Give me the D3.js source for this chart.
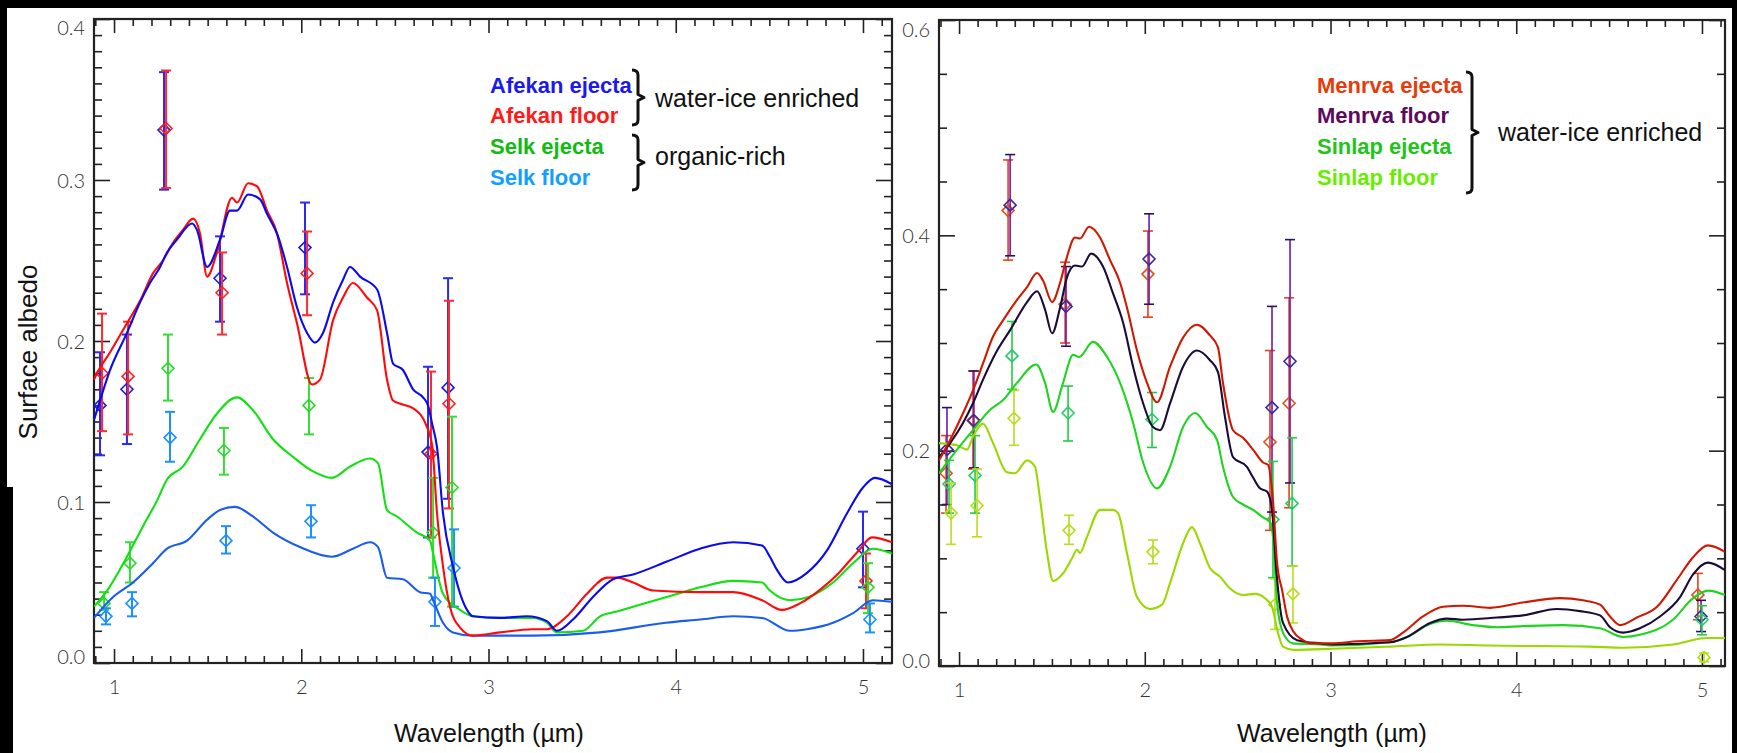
<!DOCTYPE html>
<html><head><meta charset="utf-8">
<script src="https://cdn.jsdelivr.net/npm/d3@7"></script>
<style>body{margin:0;background:#000;} svg{display:block}</style>
</head><body><svg id="c" width="1737" height="753"></svg>
<script>
// ---------------- DATA: left panel (Afekan / Selk) ----------------
const afekanEjectaCurve = [[0.893,0.151],[0.925,0.163],[0.979,0.182],[1.069,0.205],[1.139,0.224],[1.192,0.236],[1.246,0.246],[1.283,0.255],[1.336,0.263],[1.417,0.273],[1.443,0.269],[1.497,0.246],[1.566,0.263],[1.619,0.281],[1.657,0.281],[1.716,0.291],[1.780,0.288],[1.817,0.279],[1.876,0.265],[1.924,0.246],[1.977,0.221],[2.031,0.205],[2.073,0.199],[2.116,0.205],[2.170,0.224],[2.223,0.238],[2.260,0.246],[2.314,0.240],[2.405,0.232],[2.458,0.205],[2.490,0.186],[2.543,0.182],[2.597,0.170],[2.650,0.165],[2.677,0.160],[2.700,0.148],[2.725,0.134],[2.757,0.093],[2.810,0.060],[2.885,0.033],[2.917,0.029],[3.061,0.028],[3.206,0.029],[3.312,0.026],[3.366,0.020],[3.451,0.027],[3.558,0.041],[3.665,0.052],[3.772,0.055],[3.953,0.063],[4.130,0.071],[4.306,0.075],[4.461,0.073],[4.503,0.066],[4.540,0.058],[4.599,0.050],[4.701,0.056],[4.808,0.070],[4.915,0.093],[5.000,0.109],[5.064,0.115],[5.155,0.111]];
const afekanFloorCurve = [[0.893,0.176],[0.909,0.180],[0.979,0.193],[1.069,0.211],[1.139,0.225],[1.208,0.242],[1.261,0.250],[1.315,0.261],[1.368,0.269],[1.422,0.276],[1.459,0.267],[1.497,0.240],[1.550,0.255],[1.630,0.289],[1.657,0.286],[1.716,0.298],[1.764,0.296],[1.817,0.281],[1.870,0.267],[1.924,0.236],[1.977,0.211],[2.057,0.173],[2.100,0.176],[2.170,0.213],[2.223,0.227],[2.276,0.236],[2.351,0.227],[2.405,0.219],[2.458,0.176],[2.490,0.163],[2.530,0.161],[2.600,0.158],[2.670,0.147],[2.700,0.134],[2.725,0.093],[2.757,0.060],[2.794,0.035],[2.848,0.022],[2.917,0.017],[3.061,0.019],[3.236,0.021],[3.312,0.021],[3.419,0.029],[3.526,0.043],[3.633,0.053],[3.686,0.053],[3.772,0.050],[3.879,0.045],[4.130,0.044],[4.306,0.044],[4.461,0.039],[4.567,0.033],[4.663,0.037],[4.765,0.045],[4.872,0.056],[4.925,0.063],[4.979,0.070],[5.048,0.078],[5.155,0.075]];
const selkEjectaCurve = [[0.893,0.035],[0.963,0.045],[1.069,0.066],[1.155,0.085],[1.230,0.101],[1.283,0.114],[1.368,0.122],[1.459,0.139],[1.550,0.155],[1.657,0.165],[1.742,0.157],[1.849,0.139],[1.956,0.128],[2.063,0.119],[2.164,0.115],[2.260,0.122],[2.367,0.127],[2.410,0.124],[2.458,0.095],[2.511,0.091],[2.618,0.081],[2.688,0.076],[2.704,0.068],[2.757,0.043],[2.848,0.033],[2.917,0.029],[3.061,0.028],[3.236,0.028],[3.312,0.025],[3.366,0.019],[3.505,0.020],[3.596,0.029],[3.686,0.032],[4.039,0.044],[4.130,0.047],[4.306,0.051],[4.461,0.050],[4.503,0.045],[4.610,0.039],[4.710,0.041],[4.840,0.050],[4.947,0.062],[5.053,0.071],[5.155,0.068]];
const selkFloorCurve = [[0.893,0.028],[0.995,0.041],[1.101,0.050],[1.208,0.062],[1.283,0.071],[1.390,0.076],[1.497,0.089],[1.566,0.095],[1.646,0.097],[1.742,0.091],[1.849,0.081],[1.993,0.072],[2.164,0.066],[2.276,0.071],[2.367,0.075],[2.410,0.072],[2.458,0.053],[2.543,0.052],[2.634,0.044],[2.688,0.043],[2.704,0.039],[2.757,0.025],[2.810,0.019],[2.917,0.017],[3.236,0.017],[3.594,0.019],[3.947,0.025],[4.130,0.027],[4.306,0.029],[4.461,0.028],[4.610,0.020],[4.700,0.021],[4.840,0.025],[4.947,0.031],[5.053,0.039],[5.155,0.038]];

// points: [wavelength, albedo, lower, upper]
const afekanEjectaPoints = [[0.925,0.160,0.129,0.193],[1.069,0.170,0.136,0.204],[1.267,0.331,0.294,0.367],[1.566,0.239,0.212,0.265],[2.020,0.258,0.229,0.286],[2.677,0.131,0.078,0.184],[2.784,0.171,0.102,0.239],[5.000,0.071,0.047,0.094]];
const afekanFloorPoints = [[0.936,0.180,0.144,0.217],[1.075,0.178,0.142,0.212],[1.278,0.332,0.295,0.368],[1.577,0.230,0.204,0.255],[2.031,0.242,0.216,0.268],[2.693,0.130,0.078,0.181],[2.789,0.161,0.096,0.225],[5.016,0.051,0.034,0.068]];
const selkEjectaPoints = [[0.947,0.037,0.033,0.044],[1.085,0.062,0.050,0.075],[1.288,0.183,0.163,0.204],[1.587,0.132,0.117,0.146],[2.041,0.160,0.142,0.177],[2.704,0.081,0.053,0.115],[2.805,0.109,0.035,0.153],[5.027,0.047,0.031,0.062]];
const selkFloorPoints = [[0.957,0.029,0.024,0.034],[1.096,0.037,0.029,0.044],[1.299,0.140,0.125,0.156],[1.598,0.076,0.068,0.085],[2.052,0.088,0.078,0.098],[2.714,0.038,0.023,0.053],[2.816,0.059,0.035,0.083],[5.037,0.027,0.019,0.037]];

// ---------------- DATA: right panel (Menrva / Sinlap) ----------------
const menrvaEjectaCurve = [[0.892,0.191],[0.952,0.210],[1.022,0.235],[1.075,0.256],[1.129,0.281],[1.183,0.306],[1.237,0.321],[1.312,0.340],[1.366,0.352],[1.420,0.365],[1.452,0.358],[1.501,0.338],[1.544,0.356],[1.581,0.380],[1.624,0.398],[1.651,0.397],[1.700,0.408],[1.759,0.398],[1.813,0.377],[1.867,0.356],[1.904,0.333],[1.958,0.293],[2.012,0.263],[2.066,0.245],[2.136,0.278],[2.206,0.305],[2.281,0.317],[2.351,0.307],[2.394,0.296],[2.421,0.263],[2.475,0.219],[2.529,0.212],[2.583,0.201],[2.637,0.189],[2.663,0.187],[2.690,0.154],[2.712,0.096],[2.740,0.070],[2.766,0.046],[2.800,0.032],[2.852,0.024],[2.890,0.021],[3.013,0.021],[3.143,0.023],[3.320,0.024],[3.390,0.031],[3.498,0.046],[3.606,0.055],[3.713,0.056],[3.859,0.054],[4.036,0.059],[4.235,0.063],[4.359,0.061],[4.451,0.057],[4.505,0.046],[4.559,0.038],[4.650,0.045],[4.758,0.055],[4.865,0.080],[4.952,0.101],[5.032,0.112],[5.124,0.106]];
const menrvaFloorCurve = [[0.892,0.194],[0.952,0.207],[1.022,0.226],[1.075,0.244],[1.129,0.266],[1.205,0.293],[1.275,0.312],[1.366,0.338],[1.420,0.348],[1.463,0.331],[1.501,0.309],[1.544,0.333],[1.581,0.361],[1.624,0.372],[1.662,0.371],[1.711,0.383],[1.775,0.371],[1.829,0.346],[1.883,0.319],[1.937,0.278],[1.991,0.244],[2.044,0.222],[2.082,0.219],[2.136,0.244],[2.206,0.278],[2.281,0.293],[2.351,0.284],[2.394,0.273],[2.432,0.231],[2.475,0.194],[2.550,0.185],[2.580,0.176],[2.620,0.165],[2.658,0.162],[2.685,0.145],[2.708,0.089],[2.744,0.040],[2.820,0.024],[2.944,0.021],[3.013,0.020],[3.320,0.022],[3.412,0.027],[3.536,0.040],[3.627,0.044],[3.713,0.043],[3.896,0.045],[4.036,0.047],[4.219,0.053],[4.343,0.051],[4.451,0.047],[4.505,0.036],[4.575,0.031],[4.666,0.035],[4.774,0.046],[4.882,0.064],[4.952,0.085],[5.032,0.096],[5.124,0.089]];
const sinlapEjectaCurve = [[0.892,0.179],[0.989,0.201],[1.075,0.219],[1.167,0.238],[1.237,0.247],[1.312,0.263],[1.415,0.280],[1.463,0.263],[1.506,0.236],[1.560,0.263],[1.614,0.289],[1.646,0.287],[1.721,0.301],[1.797,0.287],[1.867,0.263],[1.937,0.226],[1.991,0.189],[2.066,0.165],[2.136,0.185],[2.206,0.222],[2.271,0.235],[2.335,0.222],[2.389,0.210],[2.421,0.185],[2.475,0.157],[2.529,0.150],[2.583,0.145],[2.637,0.138],[2.674,0.134],[2.690,0.120],[2.712,0.059],[2.744,0.031],[2.798,0.021],[2.944,0.020],[3.013,0.019],[3.320,0.022],[3.412,0.027],[3.536,0.039],[3.627,0.042],[3.767,0.038],[3.896,0.036],[4.036,0.037],[4.252,0.038],[4.451,0.035],[4.575,0.027],[4.666,0.029],[4.844,0.043],[4.952,0.063],[5.032,0.070],[5.124,0.066]];
const sinlapFloorCurve = [[0.892,0.207],[0.989,0.205],[1.043,0.201],[1.075,0.213],[1.129,0.225],[1.183,0.207],[1.258,0.180],[1.301,0.179],[1.366,0.191],[1.409,0.185],[1.436,0.155],[1.474,0.105],[1.506,0.079],[1.560,0.086],[1.608,0.100],[1.635,0.108],[1.651,0.105],[1.689,0.120],[1.759,0.145],[1.829,0.145],[1.856,0.142],[1.904,0.105],[1.958,0.064],[2.028,0.053],[2.093,0.057],[2.136,0.077],[2.206,0.114],[2.254,0.129],[2.297,0.114],[2.351,0.091],[2.405,0.083],[2.459,0.072],[2.529,0.066],[2.594,0.067],[2.647,0.063],[2.685,0.055],[2.717,0.031],[2.744,0.018],[2.800,0.015],[3.013,0.016],[3.320,0.018],[3.590,0.020],[3.859,0.019],[4.397,0.018],[4.575,0.017],[4.844,0.020],[5.027,0.026],[5.124,0.026]];

const menrvaEjectaPoints = [[0.930,0.179,0.142,0.214],[1.075,0.228,0.183,0.274],[1.264,0.423,0.377,0.470],[1.571,0.336,0.300,0.375],[2.017,0.364,0.324,0.404],[2.674,0.208,0.126,0.293],[2.777,0.244,0.147,0.342],[4.978,0.066,0.043,0.086]];
const menrvaFloorPoints = [[0.935,0.201,0.150,0.240],[1.080,0.228,0.184,0.274],[1.275,0.428,0.381,0.475],[1.576,0.334,0.297,0.371],[2.023,0.378,0.336,0.420],[2.685,0.240,0.143,0.334],[2.782,0.283,0.170,0.396],[4.995,0.046,0.032,0.061]];
const sinlapEjectaPoints = [[0.946,0.169,0.142,0.191],[1.086,0.177,0.142,0.214],[1.285,0.288,0.257,0.320],[1.587,0.235,0.209,0.260],[2.039,0.229,0.203,0.254],[2.690,0.136,0.082,0.190],[2.793,0.151,0.093,0.212],[5.000,0.043,0.029,0.056]];
const sinlapFloorPoints = [[0.957,0.142,0.113,0.170],[1.097,0.149,0.120,0.183],[1.296,0.230,0.205,0.256],[1.592,0.126,0.113,0.140],[2.044,0.106,0.095,0.117],[2.701,0.057,0.034,0.081],[2.798,0.067,0.040,0.093],[5.011,0.008,0.004,0.012]];

const xTickLabels = [1, 2, 3, 4, 5];
const leftYTickLabels = [0.0, 0.1, 0.2, 0.3, 0.4];
const rightYTickLabels = [0.0, 0.2, 0.4, 0.6];
const leftLegend = ["Afekan ejecta", "Afekan floor", "Selk ejecta", "Selk floor"];
const rightLegend = ["Menrva ejecta", "Menrva floor", "Sinlap ejecta", "Sinlap floor"];

// ---------------- DRAWING ----------------
const svg = d3.select('#c');
const W = 1737, H = 753;
svg.append('rect').attr('width', W).attr('height', H).attr('fill', '#000');
svg.append('rect').attr('x', 7).attr('y', 8).attr('width', 1725).attr('height', H - 8).attr('fill', '#fff');
svg.append('rect').attr('x', 0).attr('y', 487).attr('width', 13).attr('height', H - 487).attr('fill', '#000');

const TICKFONT = "Lato, 'DejaVu Sans', sans-serif";
const TEXTFONT = "'Liberation Sans', Arial, Helvetica, sans-serif";

function drawPanel(p) {
  const x = d3.scaleLinear().domain(p.xDomain).range([p.left, p.right]);
  const y = d3.scaleLinear().domain(p.yDomain).range([p.bottom, p.top]);
  const g = svg.append('g');
  const clipId = 'clip-' + p.id;
  svg.append('defs').append('clipPath').attr('id', clipId)
    .append('rect').attr('x', p.left).attr('y', p.top)
    .attr('width', p.right - p.left).attr('height', p.bottom - p.top);

  const xMinor = d3.range(9, 52).map(d => d / 10)
    .filter(v => v >= p.xDomain[0] && v <= p.xDomain[1] && Math.abs(v - Math.round(v)) > 1e-6);
  const nMinor = Math.round((p.yDomain[1] - p.yDomain[0]) / p.yMinorStep);
  const yMinor = d3.range(0, nMinor + 1).map(i => +(p.yDomain[0] + i * p.yMinorStep).toFixed(4))
    .filter(v => !p.yMajor.some(m => Math.abs(m - v) < 1e-6));

  const style = sel => {
    sel.select('.domain').remove();
    sel.selectAll('line').attr('stroke', '#222').attr('stroke-width', 1.6);
    sel.selectAll('text').attr('fill', '#333').attr('font-family', TICKFONT)
      .attr('font-weight', 300).attr('font-size', 20);
  };
  // bottom axis
  g.append('g').attr('transform', `translate(0,${p.bottom})`)
    .call(d3.axisBottom(x).tickValues(xMinor).tickSize(-7).tickFormat('')).call(style);
  g.append('g').attr('transform', `translate(0,${p.bottom})`)
    .call(d3.axisBottom(x).tickValues(xTickLabels).tickSize(-14).tickPadding(17).tickFormat(d3.format('d'))).call(style);
  // top axis
  g.append('g').attr('transform', `translate(0,${p.top})`)
    .call(d3.axisTop(x).tickValues(xMinor).tickSize(-7).tickFormat('')).call(style);
  g.append('g').attr('transform', `translate(0,${p.top})`)
    .call(d3.axisTop(x).tickValues(xTickLabels).tickSize(-14).tickFormat('')).call(style);
  // left axis
  g.append('g').attr('transform', `translate(${p.left},0)`)
    .call(d3.axisLeft(y).tickValues(yMinor).tickSize(-8).tickFormat('')).call(style);
  const yl = g.append('g').attr('transform', `translate(${p.left},0)`)
    .call(d3.axisLeft(y).tickValues(p.yMajor).tickSize(-16).tickPadding(9).tickFormat(d3.format('.1f'))).call(style);
  yl.selectAll('.tick text').attr('dy', d => {
    if (Math.abs(d - p.yDomain[1]) < 1e-6) return p.topLabelShift + 7;
    if (Math.abs(d - p.yDomain[0]) < 1e-6) return p.bottomLabelShift + 7;
    return 7;
  });
  // right axis
  g.append('g').attr('transform', `translate(${p.right},0)`)
    .call(d3.axisRight(y).tickValues(yMinor).tickSize(-8).tickFormat('')).call(style);
  g.append('g').attr('transform', `translate(${p.right},0)`)
    .call(d3.axisRight(y).tickValues(p.yMajor).tickSize(-16).tickFormat('')).call(style);

  // frame
  g.append('rect').attr('x', p.left).attr('y', p.top)
    .attr('width', p.right - p.left).attr('height', p.bottom - p.top)
    .attr('fill', 'none').attr('stroke', '#222').attr('stroke-width', 2.2);

  const plot = g.append('g').attr('clip-path', `url(#${clipId})`);
  const line = d3.line().x(d => x(d[0])).y(d => y(d[1])).curve(d3.curveMonotoneX);

  // error bars + diamonds
  p.series.forEach(s => {
    const pg = plot.append('g');
    s.points.forEach(d => {
      const cx = x(d[0]), cy = y(d[1]), ylo = y(d[2]), yhi = y(d[3]);
      pg.append('line').attr('x1', cx).attr('x2', cx).attr('y1', ylo).attr('y2', yhi)
        .attr('stroke', s.barColor).attr('stroke-width', p.barWidth);
      [ylo, yhi].forEach(yy => pg.append('line').attr('x1', cx - 5).attr('x2', cx + 5)
        .attr('y1', yy).attr('y2', yy).attr('stroke', s.capColor || s.barColor).attr('stroke-width', p.barWidth));
      const r = 6;
      pg.append('path').attr('d', `M${cx},${cy - r}L${cx + r},${cy}L${cx},${cy + r}L${cx - r},${cy}Z`)
        .attr('fill', 'none').attr('stroke', s.ptColor).attr('stroke-width', 1.6);
    });
  });
  // curves
  p.series.slice().reverse().forEach(s => {
    plot.append('path').datum(s.curve).attr('d', line)
      .attr('fill', 'none').attr('stroke', s.lineColor).attr('stroke-width', 2.1)
      .attr('stroke-linejoin', 'round');
  });

  // x-axis title
  g.append('text').attr('x', p.xTitleX).attr('y', 742).attr('text-anchor', 'middle')
    .attr('font-family', TEXTFONT).attr('font-size', 25).attr('fill', '#111')
    .text('Wavelength (µm)');
  return { x, y, g };
}

drawPanel({
  id: 'L', left: 94, right: 892, top: 19, bottom: 663,
  xDomain: [0.893, 5.155], yDomain: [0, 0.4],
  yMajor: leftYTickLabels, yMinorStep: 0.01,
  topLabelShift: 8, bottomLabelShift: -7, barWidth: 2, xTitleX: 489,
  series: [
    { curve: afekanEjectaCurve, points: afekanEjectaPoints, lineColor: '#0a0af0', ptColor: '#1c1ce0', barColor: '#2a2af0' },
    { curve: afekanFloorCurve, points: afekanFloorPoints, lineColor: '#ff0a0a', ptColor: '#ff2020', barColor: '#ff2a2a' },
    { curve: selkEjectaCurve, points: selkEjectaPoints, lineColor: '#12e012', ptColor: '#2ed82e', barColor: '#33dd33' },
    { curve: selkFloorCurve, points: selkFloorPoints, lineColor: '#1a5cf0', ptColor: '#1e8fff', barColor: '#1e8fff' }
  ]
});

drawPanel({
  id: 'R', left: 939, right: 1725, top: 20, bottom: 666,
  xDomain: [0.892, 5.124], yDomain: [0, 0.6],
  yMajor: rightYTickLabels, yMinorStep: 0.05,
  topLabelShift: 9, bottomLabelShift: -6, barWidth: 1.6, xTitleX: 1332,
  series: [
    { curve: menrvaEjectaCurve, points: menrvaEjectaPoints, lineColor: '#d01800', ptColor: '#e0501c', barColor: '#e4401a' },
    { curve: menrvaFloorCurve, points: menrvaFloorPoints, lineColor: '#1c0c38', ptColor: '#3a2aa0', barColor: '#6a1ab4', capColor: '#2a1060' },
    { curve: sinlapEjectaCurve, points: sinlapEjectaPoints, lineColor: '#1fd41f', ptColor: '#22cc66', barColor: '#22cc44' },
    { curve: sinlapFloorCurve, points: sinlapFloorPoints, lineColor: '#9ad800', ptColor: '#b8dc20', barColor: '#b8dc20' }
  ]
});

// y-axis title
svg.append('text').attr('transform', 'translate(28,352) rotate(-90)')
  .attr('text-anchor', 'middle').attr('dominant-baseline', 'central')
  .attr('font-family', TEXTFONT).attr('font-size', 26).attr('fill', '#111')
  .text('Surface albedo');

// legends
const legFont = sel => sel.attr('font-family', TEXTFONT).attr('font-weight', 'bold').attr('font-size', 22);
const leftLegendColors = ['#1a1aee', '#ff1a1a', '#11bb11', '#11a0ff'];
const rightLegendColors = ['#e63c0c', '#5c0a5c', '#22c41a', '#66ee00'];
const legendBaselines = [93, 123, 154, 185];
leftLegend.forEach((t, i) => svg.append('text').attr('x', 490).attr('y', legendBaselines[i])
  .attr('fill', leftLegendColors[i]).call(legFont).text(t));
rightLegend.forEach((t, i) => svg.append('text').attr('x', 1317).attr('y', legendBaselines[i])
  .attr('fill', rightLegendColors[i]).call(legFont).text(t));

function bracket(xr, y0, y1) {
  const ym = (y0 + y1) / 2;
  svg.append('path')
    .attr('d', `M${xr - 6},${y0} Q${xr},${y0} ${xr},${y0 + 5} L${xr},${ym - 3} L${xr + 6},${ym} L${xr},${ym + 3} L${xr},${y1 - 5} Q${xr},${y1} ${xr - 6},${y1}`)
    .attr('fill', 'none').attr('stroke', '#111').attr('stroke-width', 3).attr('stroke-linejoin', 'round');
}
bracket(638, 70, 125);
bracket(638, 135, 190);
bracket(1472, 72, 193);

const noteFont = sel => sel.attr('font-family', TEXTFONT).attr('font-size', 25).attr('fill', '#111');
svg.append('text').attr('x', 655).attr('y', 107).call(noteFont).text('water-ice enriched');
svg.append('text').attr('x', 655).attr('y', 165).call(noteFont).text('organic-rich');
svg.append('text').attr('x', 1498).attr('y', 141).call(noteFont).text('water-ice enriched');
</script></body></html>
